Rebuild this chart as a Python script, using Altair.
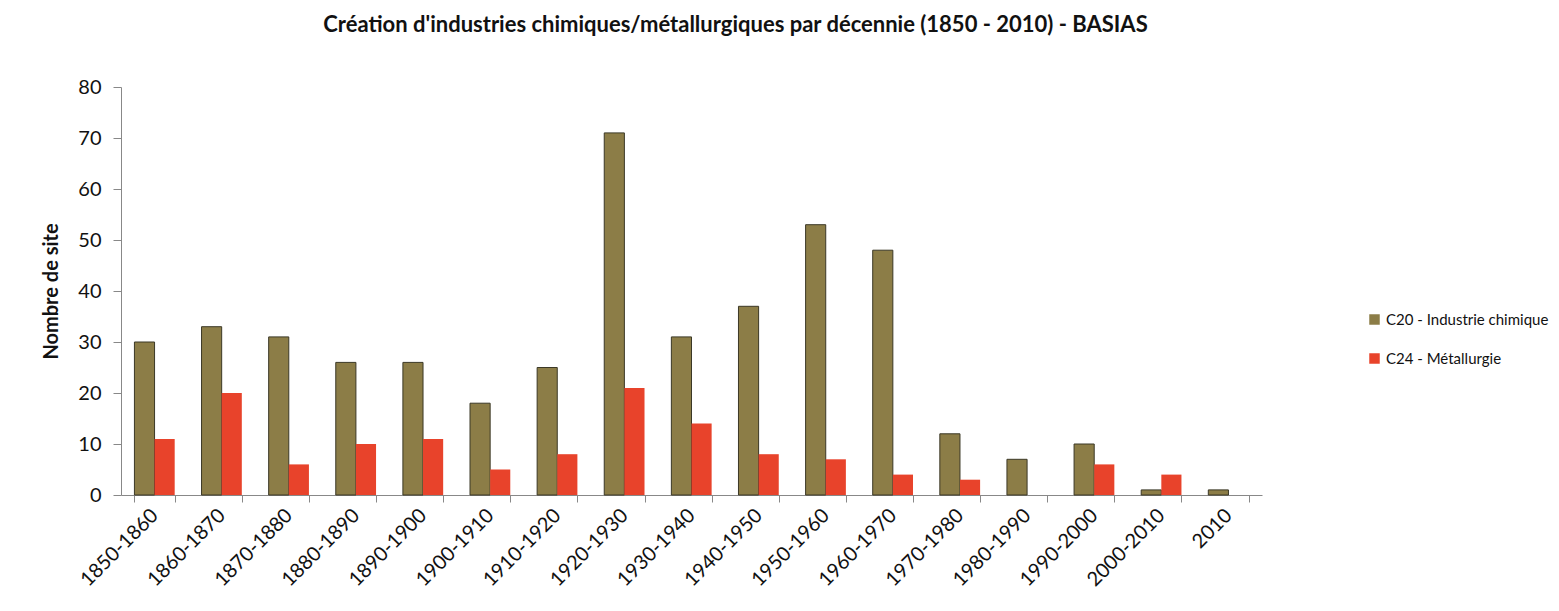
import altair as alt
import pandas as pd

decades = ["1850-1860", "1860-1870", "1870-1880", "1880-1890", "1890-1900",
           "1900-1910", "1910-1920", "1920-1930", "1930-1940", "1940-1950",
           "1950-1960", "1960-1970", "1970-1980", "1980-1990", "1990-2000",
           "2000-2010", "2010"]
chimie = [30, 33, 31, 26, 26, 18, 25, 71, 31, 37, 53, 48, 12, 7, 10, 1, 1]
metal = [11, 20, 6, 10, 11, 5, 8, 21, 14, 8, 7, 4, 3, 0, 6, 4, 0]
series = ["C20 - Industrie chimique", "C24 - Métallurgie"]
colors = ["#8C7D47", "#E8432B"]
y_ticks = [0, 10, 20, 30, 40, 50, 60, 70, 80]

rows = []
for d, a, b in zip(decades, chimie, metal):
    rows.append({"decade": d, "series": series[0], "value": a})
    rows.append({"decade": d, "series": series[1], "value": b})
df = pd.DataFrame(rows)

FONT = "Lato"

chart = alt.Chart(df).mark_bar(stroke="#3b3826").encode(
    x=alt.X("decade:N", sort=decades,
            scale=alt.Scale(paddingInner=0.4, paddingOuter=0.2),
            axis=alt.Axis(title=None, labelAngle=-45, labelAlign="right",
                          labelBaseline="middle", tickBand="extent",
                          tickSize=7, labelPadding=10, labelFontSize=20,
                          labelFont=FONT, labelColor="#111111",
                          domainColor="#888888", tickColor="#888888")),
    xOffset=alt.XOffset("series:N", sort=series,
                        scale=alt.Scale(paddingInner=0, paddingOuter=0)),
    y=alt.Y("value:Q", scale=alt.Scale(domain=[0, 80]),
            axis=alt.Axis(values=y_ticks, title="Nombre de site", grid=False,
                          tickSize=8, labelPadding=12, labelFontSize=20,
                          labelFont=FONT, labelColor="#111111",
                          titleFont=FONT, titleFontSize=20, titleFontWeight="bold",
                          titleColor="#111111", titlePadding=16,
                          domainColor="#888888", tickColor="#888888")),
    color=alt.Color("series:N",
                    scale=alt.Scale(domain=series, range=colors),
                    legend=alt.Legend(title=None, orient="none", legendX=1246,
                                      legendY=225, symbolType="square",
                                      symbolSize=110, symbolStrokeWidth=0,
                                      labelFont=FONT, labelFontSize=15,
                                      labelLimit=400,
                                      labelColor="#111111", rowPadding=23,
                                      labelOffset=4)),
    strokeWidth=alt.condition(f"datum.series == '{series[0]}'",
                              alt.value(1), alt.value(0)),
).properties(
    width=1141,
    height=408,
    title=alt.TitleParams(
        "Création d'industries chimiques/métallurgiques par décennie (1850 - 2010) - BASIAS",
        font=FONT, fontSize=22, fontWeight="bold", color="#111111",
        anchor="middle", dx=44, offset=40),
    autosize=alt.AutoSizeParams(type="none"),
    padding={"left": 113, "top": 79, "right": 289, "bottom": 108},
    background="white",
).configure_view(stroke=None)

chart.save("out.html", embed_options={"renderer": "svg", "actions": False})
